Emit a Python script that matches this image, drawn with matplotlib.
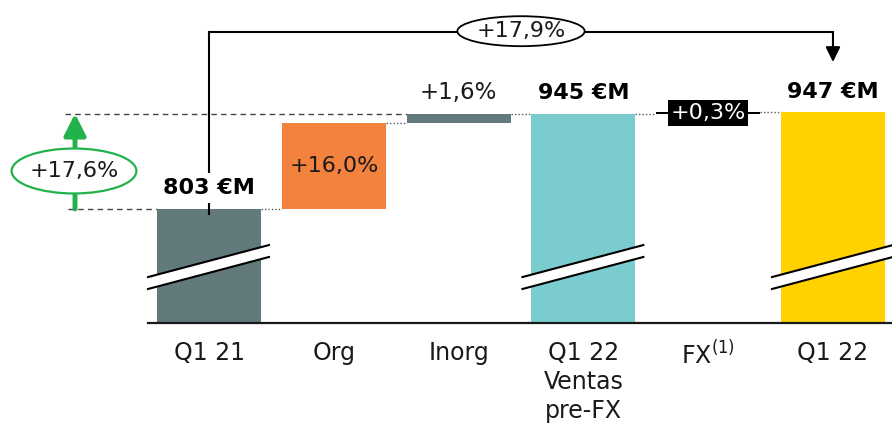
import matplotlib.pyplot as plt
from matplotlib.patches import Ellipse, Polygon

categorias = ['Q1 21', 'Org', 'Inorg', 'Q1 22\nVentas\npre-FX', 'FX$^{(1)}$', 'Q1 22']
# valores (M EUR): totales y variaciones
valores = [803, 128.5, 13.5, 945, 2, 947]
es_total = [True, False, False, True, False, True]
etiquetas = ['803 €M', '+16,0%', '+1,6%', '945 €M', '+0,3%', '947 €M']
colores = ['#627a7b', '#f4823f', '#627a7b', '#7acccf', '#000000', '#ffd200']
crec_org_inorg = '+17,6%'
crec_total = '+17,9%'

base = 633          # eje cortado
ancho = 0.833
verde = '#22b24c'
plt.rcParams['mathtext.default'] = 'regular'

fig = plt.figure(figsize=(8.92, 4.28), dpi=100)
ax = fig.add_axes([0, 105 / 428, 1, 323 / 428])
ax.set_xlim(-1.675, 5.473)
ax.set_ylim(base, 1114.5)
ax.axis('off')

# calcular base y altura de cada barra
bottoms, tops = [], []
acum = 0
for v, t in zip(valores, es_total):
    if t:
        bottoms.append(base)
        acum = v
    else:
        bottoms.append(acum)
        acum += v
    tops.append(acum)

x = list(range(len(valores)))
for i in x:
    ax.bar(i, tops[i] - bottoms[i], bottom=bottoms[i], width=ancho, color=colores[i], zorder=2)

# conectores punteados entre barras
for i in range(len(x) - 1):
    ax.plot([i + ancho / 2, i + 1 - ancho / 2], [tops[i], tops[i]], ls=(0, (1, 1.5)),
            color='#555555', lw=1, zorder=1)

# lineas de referencia discontinuas
ax.plot([-1.154, 2 - ancho / 2], [tops[3], tops[3]], ls=(0, (4, 3)), color='#444444', lw=1, zorder=1)
ax.plot([-1.13, -ancho / 2], [tops[0], tops[0]], ls=(0, (4, 3)), color='#444444', lw=1, zorder=1)

# eje x
ax.plot([-0.49, 5.6], [base, base], color='#1a1a1a', lw=1.6, clip_on=False, zorder=3)
for i, c in enumerate(categorias):
    ax.text(i, base - 27, c, ha='center', va='top', fontsize=17, linespacing=1.25, color='#1a1a1a')

# cortes de eje en las barras de totales
gap = 8.9
for i in [j for j in x if es_total[j]]:
    xl, xr = i - ancho / 2 - 0.072, i + ancho / 2 + 0.064
    yl, yr = 692.6, 740.3
    ax.add_patch(Polygon([[xl, yl - gap], [xr, yr - gap], [xr, yr + gap], [xl, yl + gap]],
                         closed=True, facecolor='white', edgecolor='none', zorder=4))
    for s in (-gap, gap):
        ax.plot([xl, xr], [yl + s, yr + s], color='black', lw=1.5, zorder=5)

# etiquetas de valores
ax.text(0, tops[0] + 31, etiquetas[0], ha='center', va='center', fontsize=16, fontweight='bold', zorder=6)
ax.text(1, (bottoms[1] + tops[1]) / 2, etiquetas[1], ha='center', va='center', fontsize=16, color='#1a1a1a', zorder=6)
ax.text(2, tops[2] + 31, etiquetas[2], ha='center', va='center', fontsize=16.5, color='#1a1a1a', zorder=6)
ax.text(3, tops[3] + 31, etiquetas[3], ha='center', va='center', fontsize=16, fontweight='bold', zorder=6)
ax.text(4, (bottoms[4] + tops[4]) / 2, etiquetas[4], ha='center', va='center', fontsize=16, color='white',
        bbox=dict(boxstyle='square,pad=0.12', facecolor='black', edgecolor='none'), zorder=6)
ax.text(5, tops[5] + 31, etiquetas[5], ha='center', va='center', fontsize=16, fontweight='bold', zorder=6)

# flecha verde de crecimiento
xa = -1.074
ax.annotate('', xy=(xa, tops[3]), xytext=(xa, tops[0]),
            arrowprops=dict(arrowstyle='-|>,head_length=0.65,head_width=0.33', lw=3.5, color=verde,
                            shrinkA=0, shrinkB=0, mutation_scale=20), zorder=3)
ax.add_patch(Ellipse((-1.082, 859.6), 1.0, 67, facecolor='white', edgecolor=verde, lw=1.6, zorder=4))
ax.text(-1.082, 859.6, crec_org_inorg, ha='center', va='center', fontsize=16, color='#1a1a1a', zorder=5)

# corchete superior de crecimiento total
yb = 1066.8
ax.plot([0, 0], [tops[0] + 55, yb], color='black', lw=1.5, zorder=6)
ax.plot([0, 0], [tops[0] - 8, tops[0] + 7.5], color='black', lw=1.5, zorder=6)
ax.plot([0, 5], [yb, yb], color='black', lw=1.5, zorder=6)
ax.annotate('', xy=(5, 1022), xytext=(5, yb),
            arrowprops=dict(arrowstyle='-|>,head_length=0.45,head_width=0.22', lw=1.5, color='black',
                            shrinkA=0, shrinkB=0, mutation_scale=20), zorder=6)
ax.add_patch(Ellipse((2.5, 1068), 1.02, 44.7, facecolor='white', edgecolor='black', lw=1.3, zorder=7))
ax.text(2.5, 1068, crec_total, ha='center', va='center', fontsize=16, color='#1a1a1a', zorder=8)

fig.savefig('out.png', dpi=100)
